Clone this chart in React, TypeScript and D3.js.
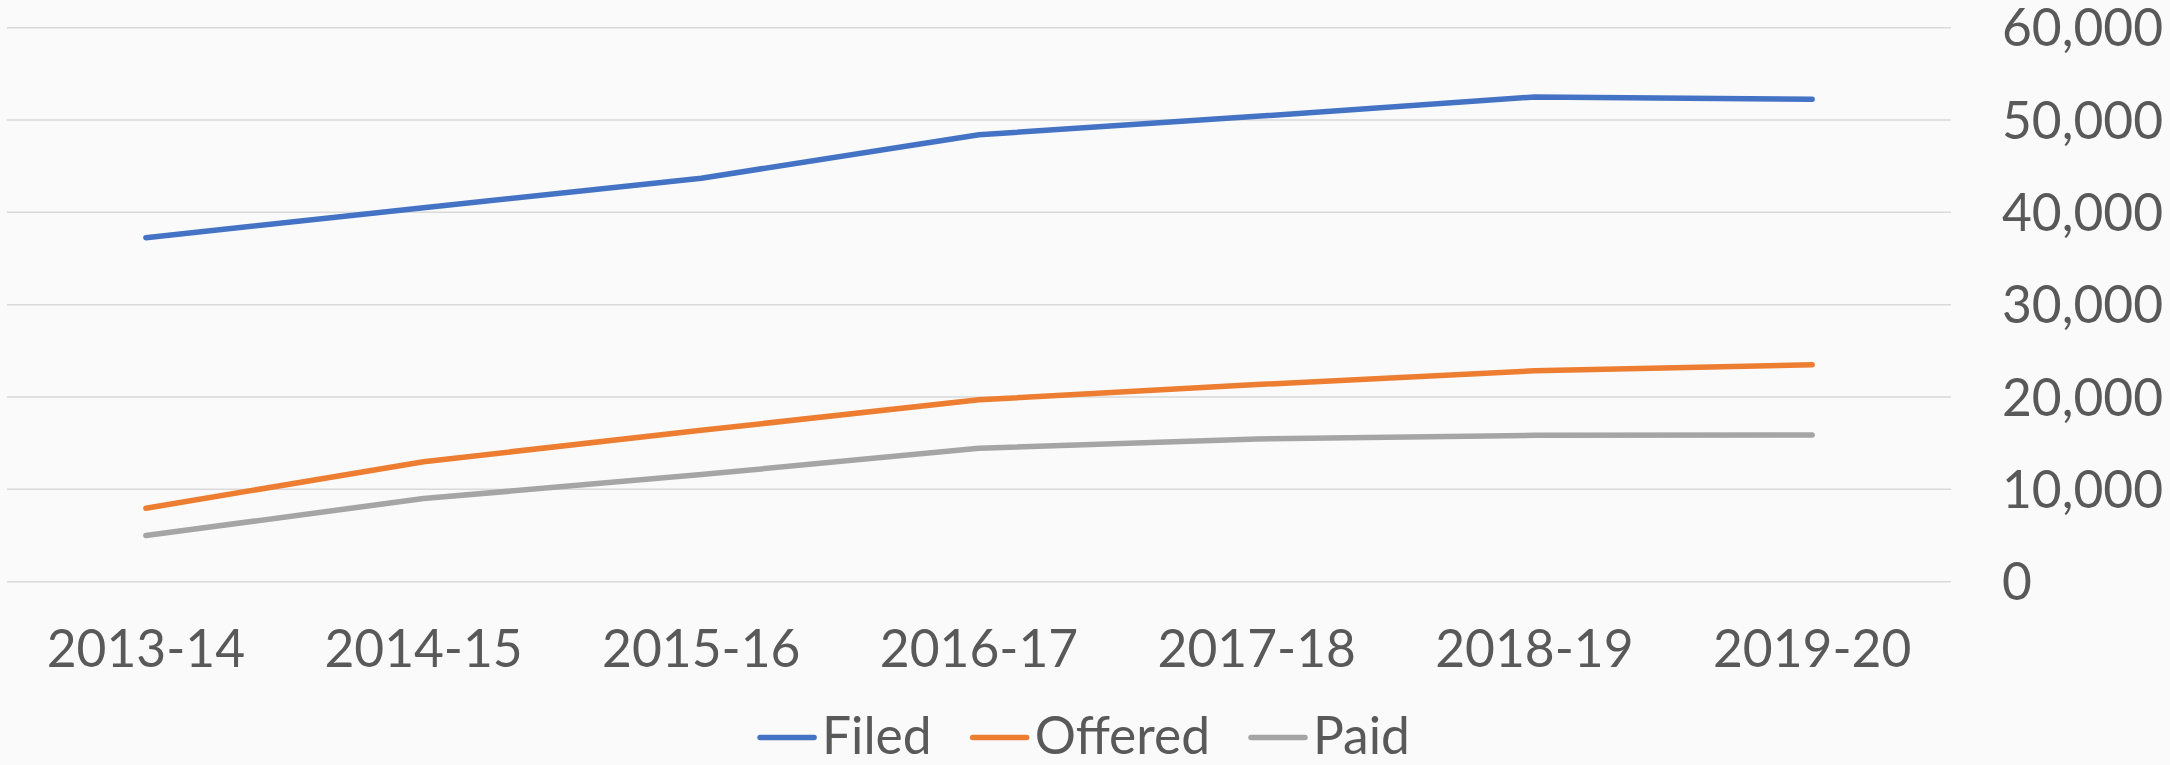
import React, { useEffect, useRef } from "react";
import * as d3 from "d3";

const categories = ["2013-14", "2014-15", "2015-16", "2016-17", "2017-18", "2018-19", "2019-20"];
const filed = [37250, 40500, 43700, 48400, 50400, 52500, 52250];
const offered = [7950, 13000, 16400, 19700, 21350, 22850, 23500];
const paid = [5000, 9000, 11600, 14450, 15450, 15850, 15900];
const yTicks = [0, 10000, 20000, 30000, 40000, 50000, 60000];
const seriesNames = ["Filed", "Offered", "Paid"];
const seriesColors = ["#4472C4", "#ED7D31", "#A5A5A5"];

const W = 2170;
const H = 765;
const FONT = "Lato, 'Noto Sans', sans-serif";

export default function App() {
  const ref = useRef<SVGSVGElement | null>(null);

  useEffect(() => {
    const svg = d3.select(ref.current);
    svg.selectAll("*").remove();

    const left = 7, right = 1951, top = 27.7, bottom = 581.7;
    const x = d3.scaleBand<string>().domain(categories).range([left, right]).paddingInner(0).paddingOuter(0);
    const y = d3.scaleLinear().domain([0, 60000]).range([bottom, top]);
    const cx = (c: string) => (x(c) as number) + x.bandwidth() / 2;

    svg.append("rect").attr("width", W).attr("height", H).attr("fill", "#FAFAFA");

    // gridlines
    svg.append("g").selectAll("line").data(yTicks).join("line")
      .attr("x1", left).attr("x2", right)
      .attr("y1", (d) => y(d)).attr("y2", (d) => y(d))
      .attr("stroke", "#D9D9D9").attr("stroke-width", 1.5);

    // right axis labels
    const fmt = d3.format(",");
    svg.append("g").selectAll("text").data(yTicks).join("text")
      .attr("x", 2002).attr("y", (d) => y(d))
      .attr("dy", "0.36em")
      .attr("font-family", FONT).attr("font-size", 51.5).attr("fill", "#595959")
      .text((d) => fmt(d));

    // x labels
    svg.append("g").selectAll("text").data(categories).join("text")
      .attr("x", (d) => cx(d)).attr("y", 667)
      .attr("text-anchor", "middle")
      .attr("font-family", FONT).attr("font-size", 51.5).attr("fill", "#595959")
      .text((d) => d);

    // lines
    const allSeries = [filed, offered, paid];
    const line = d3.line<number>().x((_, i) => cx(categories[i])).y((d) => y(d));
    allSeries.forEach((s, i) => {
      svg.append("path").attr("d", line(s) as string)
        .attr("fill", "none").attr("stroke", seriesColors[i])
        .attr("stroke-width", 5.5).attr("stroke-linecap", "round").attr("stroke-linejoin", "round");
    });

    // legend
    const lg = svg.append("g");
    const lineLen = 54, gapText = 8, gapItem = 41;
    const items: { g: any; w: number }[] = [];
    seriesNames.forEach((n, i) => {
      const g = lg.append("g");
      g.append("line").attr("x1", 0).attr("x2", lineLen).attr("y1", 737.5).attr("y2", 737.5)
        .attr("stroke", seriesColors[i]).attr("stroke-width", 5.5).attr("stroke-linecap", "round");
      const t = g.append("text").attr("x", lineLen + gapText).attr("y", 754)
        .attr("font-family", FONT).attr("font-size", 51.5).attr("fill", "#595959").text(n);
      const tw = (t.node() as SVGTextElement).getComputedTextLength();
      items.push({ g, w: lineLen + gapText + tw });
    });
    const total = items.reduce((a, b) => a + b.w, 0) + gapItem * (items.length - 1);
    let pos = W / 2 - total / 2;
    items.forEach((it) => {
      it.g.attr("transform", `translate(${pos},0)`);
      pos += it.w + gapItem;
    });
  }, []);

  return (
    <div style={{ position: "absolute", left: 0, top: 0, width: W, height: H }}>
      <svg ref={ref} width={W} height={H} style={{ display: "block" }} />
    </div>
  );
}
